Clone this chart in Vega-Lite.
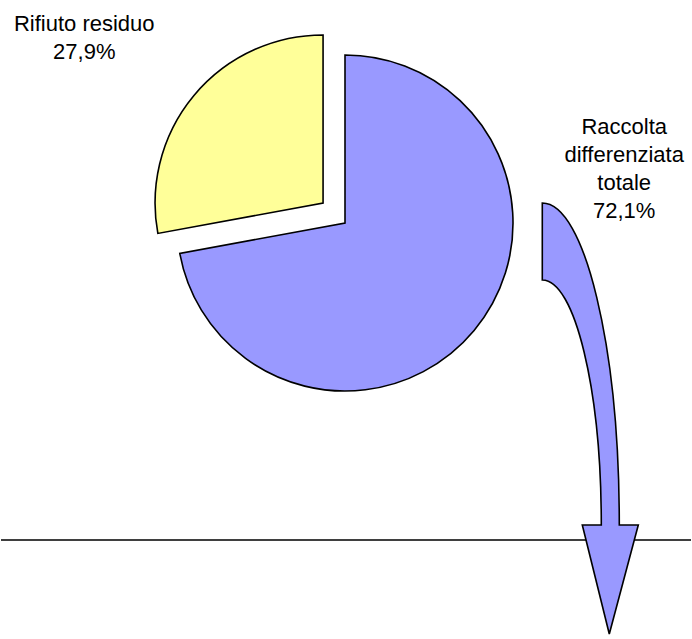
{
  "$schema": "https://vega.github.io/schema/vega-lite/v6.json",
  "width": 692,
  "height": 639,
  "autosize": {"type": "fit", "contains": "padding"},
  "padding": 0,
  "background": "white",
  "config": {"view": {"stroke": null}, "font": "Liberation Sans"},
  "data": {
    "values": [
      {"cat": "Raccolta differenziata totale", "pct": 72.1, "label": ["Raccolta", "differenziata", "totale", "72,1%"]},
      {"cat": "Rifiuto residuo", "pct": 27.9, "label": ["Rifiuto residuo", "27,9%"]}
    ]
  },
  "encoding": {
    "x": {"datum": 0, "type": "quantitative", "scale": {"domain": [0, 692], "nice": false, "zero": false}, "axis": null},
    "y": {"datum": 0, "type": "quantitative", "scale": {"domain": [0, 639], "nice": false, "zero": false, "reverse": true}, "axis": null}
  },
  "layer": [
    {
      "mark": {"type": "rule", "color": "black", "strokeWidth": 1.2},
      "encoding": {"y": {"datum": 540, "type": "quantitative"}, "x": null}
    },
    {
      "mark": {"type": "arc", "radius": 168, "stroke": "black", "strokeWidth": 1.6},
      "encoding": {
        "x": {"datum": 345, "type": "quantitative"},
        "y": {"datum": 223, "type": "quantitative"},
        "theta": {"field": "pct", "type": "quantitative", "stack": true},
        "color": {"field": "cat", "type": "nominal", "scale": {"domain": ["Raccolta differenziata totale", "Rifiuto residuo"], "range": ["#9999ff", "#ffff99"]}, "legend": null},
        "opacity": {"condition": {"test": "datum.cat == 'Rifiuto residuo'", "value": 0}, "value": 1}
      }
    },
    {
      "mark": {"type": "arc", "radius": 168, "stroke": "black", "strokeWidth": 1.6},
      "encoding": {
        "x": {"datum": 323, "type": "quantitative"},
        "y": {"datum": 203, "type": "quantitative"},
        "theta": {"field": "pct", "type": "quantitative", "stack": true},
        "color": {"field": "cat", "type": "nominal", "legend": null},
        "opacity": {"condition": {"test": "datum.cat == 'Rifiuto residuo'", "value": 1}, "value": 0}
      }
    },
    {
      "transform": [{"filter": "datum.cat == 'Raccolta differenziata totale'"}],
      "mark": {
        "type": "point",
        "filled": true,
        "fill": "#9999ff",
        "stroke": "black",
        "strokeWidth": 1.6,
        "opacity": 1,
        "size": 40000,
        "shape": "M -0.47 -2.17 C -0.045 -2.17 0.30 -0.728 0.30 1.05 L 0.49 1.05 L 0.20 2.14 L -0.07 1.05 L 0.12 1.05 C 0.12 -0.303 -0.144 -1.40 -0.47 -1.40 Z"
      },
      "encoding": {
        "x": {"datum": 590, "type": "quantitative"},
        "y": {"datum": 420, "type": "quantitative"}
      }
    },
    {
      "transform": [{"filter": "datum.cat == 'Rifiuto residuo'"}],
      "mark": {"type": "text", "fontSize": 22, "lineHeight": 28, "align": "center", "baseline": "alphabetic", "color": "black"},
      "encoding": {
        "x": {"datum": 83.5, "type": "quantitative"},
        "y": {"datum": 31, "type": "quantitative"},
        "text": {"field": "label"}
      }
    },
    {
      "transform": [{"filter": "datum.cat == 'Raccolta differenziata totale'"}],
      "mark": {"type": "text", "fontSize": 22, "lineHeight": 28, "align": "center", "baseline": "alphabetic", "color": "black"},
      "encoding": {
        "x": {"datum": 625, "type": "quantitative"},
        "y": {"datum": 134, "type": "quantitative"},
        "text": {"field": "label"}
      }
    }
  ]
}
